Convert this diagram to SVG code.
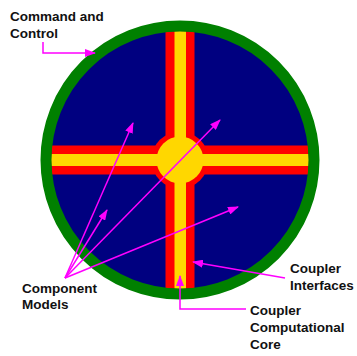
<svg xmlns="http://www.w3.org/2000/svg" width="357" height="356" viewBox="0 0 357 356">
<style>
.lbl{font-family:"Liberation Sans",Arial,sans-serif;font-weight:bold;font-size:13.5px;fill:#111}
.con{stroke:#FF00FF;stroke-width:1.5;fill:none}
.arr{marker-end:url(#ah)}
</style>
<defs>
<marker id="ah" markerUnits="userSpaceOnUse" markerWidth="11" markerHeight="8" refX="10" refY="4" orient="auto">
<path d="M0,0 L11,4 L0,8 z" fill="#FF00FF"/>
</marker>
<clipPath id="inner"><circle cx="180" cy="160" r="129"/></clipPath>
</defs>
<g id="component-models-field">
<circle cx="180" cy="160" r="134" fill="#000080"/>
</g>
<g id="coupler-interfaces" clip-path="url(#inner)">
<rect x="30" y="145.5" width="300" height="29" fill="#FF0000"/>
<rect x="165.5" y="10" width="29" height="300" fill="#FF0000"/>
<circle cx="180" cy="160" r="28.5" fill="#FF0000"/>
</g>
<g id="coupler-core" clip-path="url(#inner)">
<rect x="30" y="154" width="300" height="12" fill="#FFD700"/>
<rect x="174.5" y="10" width="11.5" height="300" fill="#FFD700"/>
<circle cx="180" cy="160" r="23.5" fill="#FFD700"/>
</g>
<g id="command-and-control">
<circle cx="180" cy="160" r="134" fill="none" stroke="#008000" stroke-width="11"/>
</g>
<g id="connectors">
<polyline class="con arr" points="43,42 43,53 95,53"/>
<line class="con arr" x1="65" y1="278" x2="133" y2="123"/>
<line class="con arr" x1="65" y1="278" x2="220" y2="120"/>
<line class="con arr" x1="65" y1="278" x2="107" y2="210"/>
<line class="con arr" x1="65" y1="278" x2="238" y2="207"/>
<line class="con arr" x1="285" y1="278" x2="193" y2="262"/>
<polyline class="con arr" points="246,309 180,309 180,276"/>
</g>
<g id="labels">
<text class="lbl" x="10" y="21">Command and</text>
<text class="lbl" x="10" y="38">Control</text>
<text class="lbl" x="22" y="293">Component</text>
<text class="lbl" x="22" y="309">Models</text>
<text class="lbl" x="290" y="273">Coupler</text>
<text class="lbl" x="290" y="290">Interfaces</text>
<text class="lbl" x="250" y="315">Coupler</text>
<text class="lbl" x="250" y="332">Computational</text>
<text class="lbl" x="250" y="349">Core</text>
</g>
</svg>
